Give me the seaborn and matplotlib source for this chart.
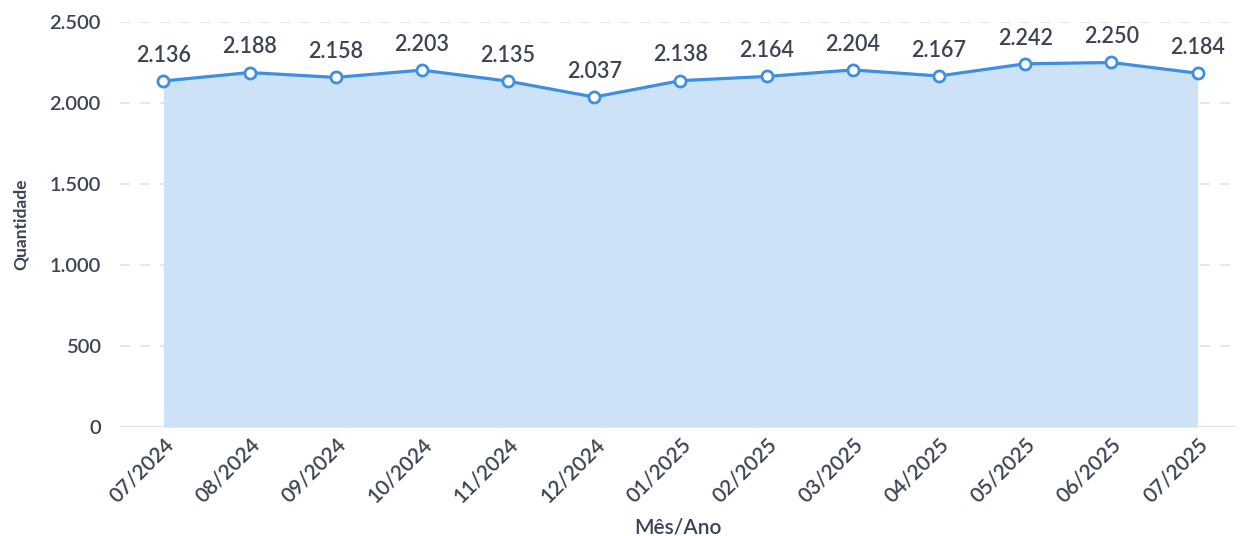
import pandas as pd
import seaborn as sns
import matplotlib.pyplot as plt
from matplotlib.ticker import FuncFormatter

# Data
meses = ["07/2024", "08/2024", "09/2024", "10/2024", "11/2024", "12/2024", "01/2025",
         "02/2025", "03/2025", "04/2025", "05/2025", "06/2025", "07/2025"]
quantidade = [2136, 2188, 2158, 2203, 2135, 2037, 2138, 2164, 2204, 2167, 2242, 2250, 2184]

df = pd.DataFrame({"mes": meses, "qtd": quantidade})
df["pos"] = range(len(df))

sns.set_theme(style="white")
plt.rcParams["font.family"] = ["Lato", "DejaVu Sans"]

text_color = "#3b4453"
line_color = "#3d8fe0"
fill_color = "#cde2f6"
fw = "semibold"

fig = plt.figure(figsize=(12.4, 5.36), dpi=100)
ax = fig.add_axes([0.097, 0.203, 0.900, 0.756])

ax.fill_between(df["pos"], df["qtd"], 0, color=fill_color, linewidth=0, zorder=1)
sns.lineplot(data=df, x="pos", y="qtd", ax=ax, color=line_color, linewidth=2.3,
             marker="o", markersize=8, markerfacecolor="white",
             markeredgecolor=line_color, markeredgewidth=2.0, zorder=3)

# Data labels
for x, y in zip(df["pos"], df["qtd"]):
    ax.annotate(f"{y:,}".replace(",", "."), (x, y), xytext=(0, 11),
                textcoords="offset points", ha="center", va="bottom",
                fontsize=15.5, fontweight=fw, color=text_color)

ax.set_xlim(-0.5, 12.45)
ax.set_ylim(0, 2500)
ax.set_yticks([0, 500, 1000, 1500, 2000, 2500])
ax.yaxis.set_major_formatter(FuncFormatter(lambda v, p: f"{int(v):,}".replace(",", ".")))
ax.set_xticks(df["pos"])
ax.set_xticklabels(df["mes"], rotation=45, ha="right", rotation_mode="anchor")

for v in [500, 1000, 1500, 2000, 2500]:
    ax.axhline(v, color="#e3e3e3", linewidth=1.2, linestyle=(0, (6, 6)), zorder=0)
ax.axhline(0, color="#e0e0e0", linewidth=1.5, zorder=0)

for s in ax.spines.values():
    s.set_visible(False)

ax.tick_params(axis="y", length=0, labelsize=14.5, colors=text_color, pad=14)
ax.tick_params(axis="x", length=0, labelsize=15, colors=text_color, pad=5)
for lbl in ax.get_xticklabels() + ax.get_yticklabels():
    lbl.set_fontweight(fw)

ax.set_xlabel("Mês/Ano", fontsize=15, fontweight=fw, color=text_color, labelpad=8)
ax.set_ylabel("Quantidade", fontsize=12.5, fontweight="bold", color=text_color, labelpad=15)

fig.savefig("out.png", dpi=100)
